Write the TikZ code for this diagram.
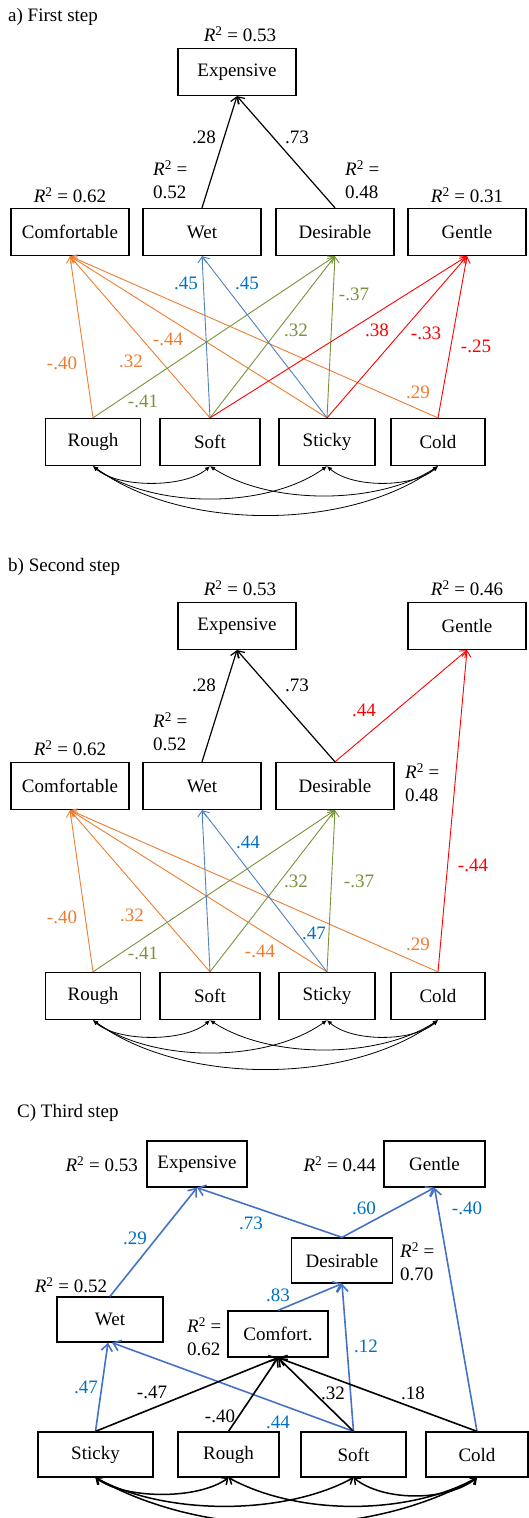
\documentclass[tikz,border=0pt]{standalone}
\usepackage{fontspec}
\setmainfont{Liberation Serif}
\usetikzlibrary{arrows.meta}
\definecolor{orng}{RGB}{237,125,49}
\definecolor{grn}{RGB}{119,147,60}
\definecolor{bln}{RGB}{79,129,189}
\definecolor{blt}{RGB}{0,112,192}
\definecolor{rd}{RGB}{255,0,0}
\definecolor{blc}{RGB}{68,114,196}
\newcommand\Rsq{\textit{R}\textsuperscript{2}}
\begin{document}
\begin{tikzpicture}[x=1pt,y=-1pt,font=\fontsize{19}{23}\selectfont,
  box/.style={draw,line width=1.3pt,minimum height=47pt,inner sep=0pt},
  boxc/.style={draw,line width=1.3pt,minimum height=45pt,inner sep=0pt},
  lbl/.style={inner sep=0pt},
  twoline/.style={inner sep=0pt,anchor=west,align=left},
  thin/.style={-{Straight Barb[length=6pt,width=9pt]},line width=0.9pt},
  blkarr/.style={-{Straight Barb[length=6pt,width=9pt]},line width=1.2pt},
  thick/.style={-{Straight Barb[length=7pt,width=11pt]},line width=1.6pt},
  cov/.style={{Latex[length=5pt,width=4.5pt]}-{Latex[length=5pt,width=4.5pt]},line width=0.8pt},
  covc/.style={{Straight Barb[length=5pt,width=9pt]}-{Straight Barb[length=5pt,width=9pt]},line width=1.5pt}]
\useasboundingbox (0,0) rectangle (528,1518);

% ================= panel a =================
\node[lbl,anchor=west] (ta) at (8,17) {a) First step};
\node[lbl] (ra1) at (240,34) {\Rsq{} = 0.53};
\node[box,minimum width=118pt] (aExp) at (237,72) {Expensive};
\node[box,minimum width=118pt] (aCom) at (70,232) {Comfortable};
\node[box,minimum width=118pt] (aWet) at (202,232) {Wet};
\node[box,minimum width=118pt] (aDes) at (335,232) {Desirable};
\node[box,minimum width=118pt] (aGen) at (467,232) {Gentle};
\node[lbl] (ra2) at (70,195) {\Rsq{} = 0.62};
\node[lbl] (ra3) at (467,195) {\Rsq{} = 0.31};
\node[twoline] (ra4) at (153,180) {\Rsq{} =\\0.52};
\node[twoline] (ra5) at (345,180) {\Rsq{} =\\0.48};
\node[box,minimum width=95pt] (aRou) at (93,442) {Rough};
\node[box,minimum width=100pt] (aSof) at (210,442) {Soft};
\node[box,minimum width=96pt] (aSti) at (327,442) {Sticky};
\node[box,minimum width=94pt] (aCol) at (438,442) {Cold};

\draw[blkarr] (aWet.north) -- (aExp.south);
\draw[blkarr] (aDes.north) -- (aExp.south);
\node[lbl] (la1) at (204,137) {.28};
\node[lbl] (la2) at (297,137) {.73};

\draw[thin,orng] (aRou.north) -- (aCom.south);
\draw[thin,orng] (aSof.north) -- (aCom.south);
\draw[thin,orng] (aSti.north) -- (aCom.south);
\draw[thin,orng] (aCol.north) -- (aCom.south);
\draw[thin,grn] (aRou.north) -- (aDes.south);
\draw[thin,grn] (aSof.north) -- (aDes.south);
\draw[thin,grn] (aSti.north) -- (aDes.south);
\draw[thin,bln] (aSof.north) -- (aWet.south);
\draw[thin,bln] (aSti.north) -- (aWet.south);
\draw[thin,rd] (aSof.north) -- (aGen.south);
\draw[thin,rd] (aSti.north) -- (aGen.south);
\draw[thin,rd] (aCol.north) -- (aGen.south);

\node[lbl,text=orng] (la3) at (62,363) {-.40};
\node[lbl,text=orng] (la4) at (131,361) {.32};
\node[lbl,text=orng] (la5) at (168,339) {-.44};
\node[lbl,text=orng] (la6) at (418,392) {.29};
\node[lbl,text=grn] (la7) at (143,401) {-.41};
\node[lbl,text=grn] (la8) at (296,330) {.32};
\node[lbl,text=grn] (la9) at (354,294) {-.37};
\node[lbl,text=blt] (la10) at (186,283) {.45};
\node[lbl,text=blt] (la11) at (247,283) {.45};
\node[lbl,text=rd] (la12) at (377,330) {.38};
\node[lbl,text=rd] (la13) at (426,333) {-.33};
\node[lbl,text=rd] (la14) at (476,346) {-.25};

\draw[cov] (aRou.south) .. controls +(25,22) and +(-25,22) .. (aSof.south);
\draw[cov] (aRou.south) .. controls +(60,43) and +(-60,43) .. (aSti.south);
\draw[cov] (aRou.south) .. controls +(90,65) and +(-90,65) .. (aCol.south);
\draw[cov] (aSof.south) .. controls +(60,39) and +(-60,39) .. (aCol.south);
\draw[cov] (aSti.south) .. controls +(25,22) and +(-25,22) .. (aCol.south);

% ================= panel b =================
\node[lbl,anchor=west] (tb) at (8,567) {b) Second step};
\node[lbl] (rb1) at (240,588) {\Rsq{} = 0.53};
\node[lbl] (rb2) at (467,588) {\Rsq{} = 0.46};
\node[box,minimum width=118pt] (bExp) at (237,626) {Expensive};
\node[box,minimum width=118pt] (bGen) at (467,626) {Gentle};
\node[box,minimum width=118pt] (bCom) at (70,786) {Comfortable};
\node[box,minimum width=118pt] (bWet) at (202,786) {Wet};
\node[box,minimum width=118pt] (bDes) at (335,786) {Desirable};
\node[lbl] (rb3) at (70,748) {\Rsq{} = 0.62};
\node[twoline] (rb4) at (153,732) {\Rsq{} =\\0.52};
\node[twoline] (rb5) at (405,783) {\Rsq{} =\\0.48};
\node[box,minimum width=95pt] (bRou) at (93,996) {Rough};
\node[box,minimum width=100pt] (bSof) at (210,996) {Soft};
\node[box,minimum width=96pt] (bSti) at (327,996) {Sticky};
\node[box,minimum width=94pt] (bCol) at (438,996) {Cold};

\draw[blkarr] (bWet.north) -- (bExp.south);
\draw[blkarr] (bDes.north) -- (bExp.south);
\node[lbl] (lb1) at (204,685) {.28};
\node[lbl] (lb2) at (297,685) {.73};
\draw[thin,rd] (bDes.north) -- (bGen.south);
\draw[thin,rd] (bCol.north) -- (bGen.south);
\node[lbl,text=rd] (lb3) at (364,710) {.44};
\node[lbl,text=rd] (lb4) at (473,865) {-.44};

\draw[thin,orng] (bRou.north) -- (bCom.south);
\draw[thin,orng] (bSof.north) -- (bCom.south);
\draw[thin,orng] (bSti.north) -- (bCom.south);
\draw[thin,orng] (bCol.north) -- (bCom.south);
\draw[thin,grn] (bRou.north) -- (bDes.south);
\draw[thin,grn] (bSof.north) -- (bDes.south);
\draw[thin,grn] (bSti.north) -- (bDes.south);
\draw[thin,bln] (bSof.north) -- (bWet.south);
\draw[thin,bln] (bSti.north) -- (bWet.south);

\node[lbl,text=orng] (lb5) at (62,917) {-.40};
\node[lbl,text=orng] (lb6) at (132,915) {.32};
\node[lbl,text=orng] (lb7) at (260,951) {-.44};
\node[lbl,text=orng] (lb8) at (418,944) {.29};
\node[lbl,text=grn] (lb9) at (143,953) {-.41};
\node[lbl,text=grn] (lb10) at (296,881) {.32};
\node[lbl,text=grn] (lb11) at (359,881) {-.37};
\node[lbl,text=blt] (lb12) at (248,842) {.44};
\node[lbl,text=blt] (lb13) at (314,933) {.47};

\draw[cov] (bRou.south) .. controls +(25,22) and +(-25,22) .. (bSof.south);
\draw[cov] (bRou.south) .. controls +(60,43) and +(-60,43) .. (bSti.south);
\draw[cov] (bRou.south) .. controls +(90,65) and +(-90,65) .. (bCol.south);
\draw[cov] (bSof.south) .. controls +(60,39) and +(-60,39) .. (bCol.south);
\draw[cov] (bSti.south) .. controls +(25,22) and +(-25,22) .. (bCol.south);

% ================= panel c =================
\node[lbl,anchor=west] (tc) at (17,1113) {C) Third step};
\node[boxc,minimum width=100pt,minimum height=46pt] (cExp) at (197,1164) {Expensive};
\node[boxc,minimum width=101pt,minimum height=46pt] (cGen) at (434.5,1164) {Gentle};
\node[lbl,anchor=east] (rc1) at (138,1164) {\Rsq{} = 0.53};
\node[lbl,anchor=east] (rc2) at (376,1164) {\Rsq{} = 0.44};
\node[boxc,minimum width=101pt] (cDes) at (342,1260.5) {Desirable};
\node[twoline] (rc3) at (400,1261.5) {\Rsq{} =\\0.70};
\node[boxc,minimum width=106pt] (cWet) at (110,1319.5) {Wet};
\node[lbl] (rc4) at (71,1285) {\Rsq{} = 0.52};
\node[boxc,minimum width=100pt,minimum height=46pt] (cCom) at (278,1334) {Comfort.};
\node[twoline] (rc5) at (187,1336.5) {\Rsq{} =\\0.62};
\node[boxc,minimum width=115pt] (cSti) at (95.5,1454.5) {Sticky};
\node[boxc,minimum width=101pt] (cRou) at (228.5,1454.5) {Rough};
\node[boxc,minimum width=105pt] (cSof) at (353.5,1454.5) {Soft};
\node[boxc,minimum width=102pt] (cCol) at (477,1454.5) {Cold};

\draw[thick,blc] (cWet.north) -- (cExp.south);
\draw[thick,blc] (cDes.north) -- (cExp.south);
\draw[thick,blc] (cDes.north) -- (cGen.south);
\draw[thick,blc] (cCol.north) -- (cGen.south);
\draw[thick,blc] (cCom.north) -- (cDes.south);
\draw[thick,blc] (cSof.north) -- (cDes.south);
\draw[thick,blc] (cSti.north) -- (cWet.-95);
\draw[thick,blc] (cSof.north) -- (cWet.-85);
\draw[thick] (cSti.north) -- (cCom.south);
\draw[thick] (cRou.north) -- (cCom.south);
\draw[thick] (cSof.north) -- (cCom.south);
\draw[thick] (cCol.north) -- (cCom.south);

\node[lbl,text=blt] (lc1) at (135,1238) {.29};
\node[lbl,text=blt] (lc2) at (251,1223) {.73};
\node[lbl,text=blt] (lc3) at (364,1208) {.60};
\node[lbl,text=blt] (lc4) at (467,1208) {-.40};
\node[lbl,text=blt] (lc5) at (278,1295) {.83};
\node[lbl,text=blt] (lc6) at (366,1346) {.12};
\node[lbl,text=blt] (lc7) at (86,1387) {.47};
\node[lbl,text=blt] (lc8) at (278,1422) {.44};
\node[lbl] (lc9) at (152,1392) {-.47};
\node[lbl] (lc10) at (220,1416) {-.40};
\node[lbl] (lc11) at (333,1393) {.32};
\node[lbl] (lc12) at (413,1393) {.18};

\draw[covc] (cSti.south) .. controls +(30,22) and +(-30,22) .. (cRou.south);
\draw[covc] (cSti.south) .. controls +(70,38) and +(-70,38) .. (cSof.south);
\draw[covc] (cSti.south) .. controls +(110,62) and +(-110,62) .. (cCol.south);
\draw[covc] (cRou.south) .. controls +(70,38) and +(-70,38) .. (cCol.south);
\draw[covc] (cSof.south) .. controls +(30,24) and +(-30,24) .. (cCol.south);
\end{tikzpicture}
\end{document}
